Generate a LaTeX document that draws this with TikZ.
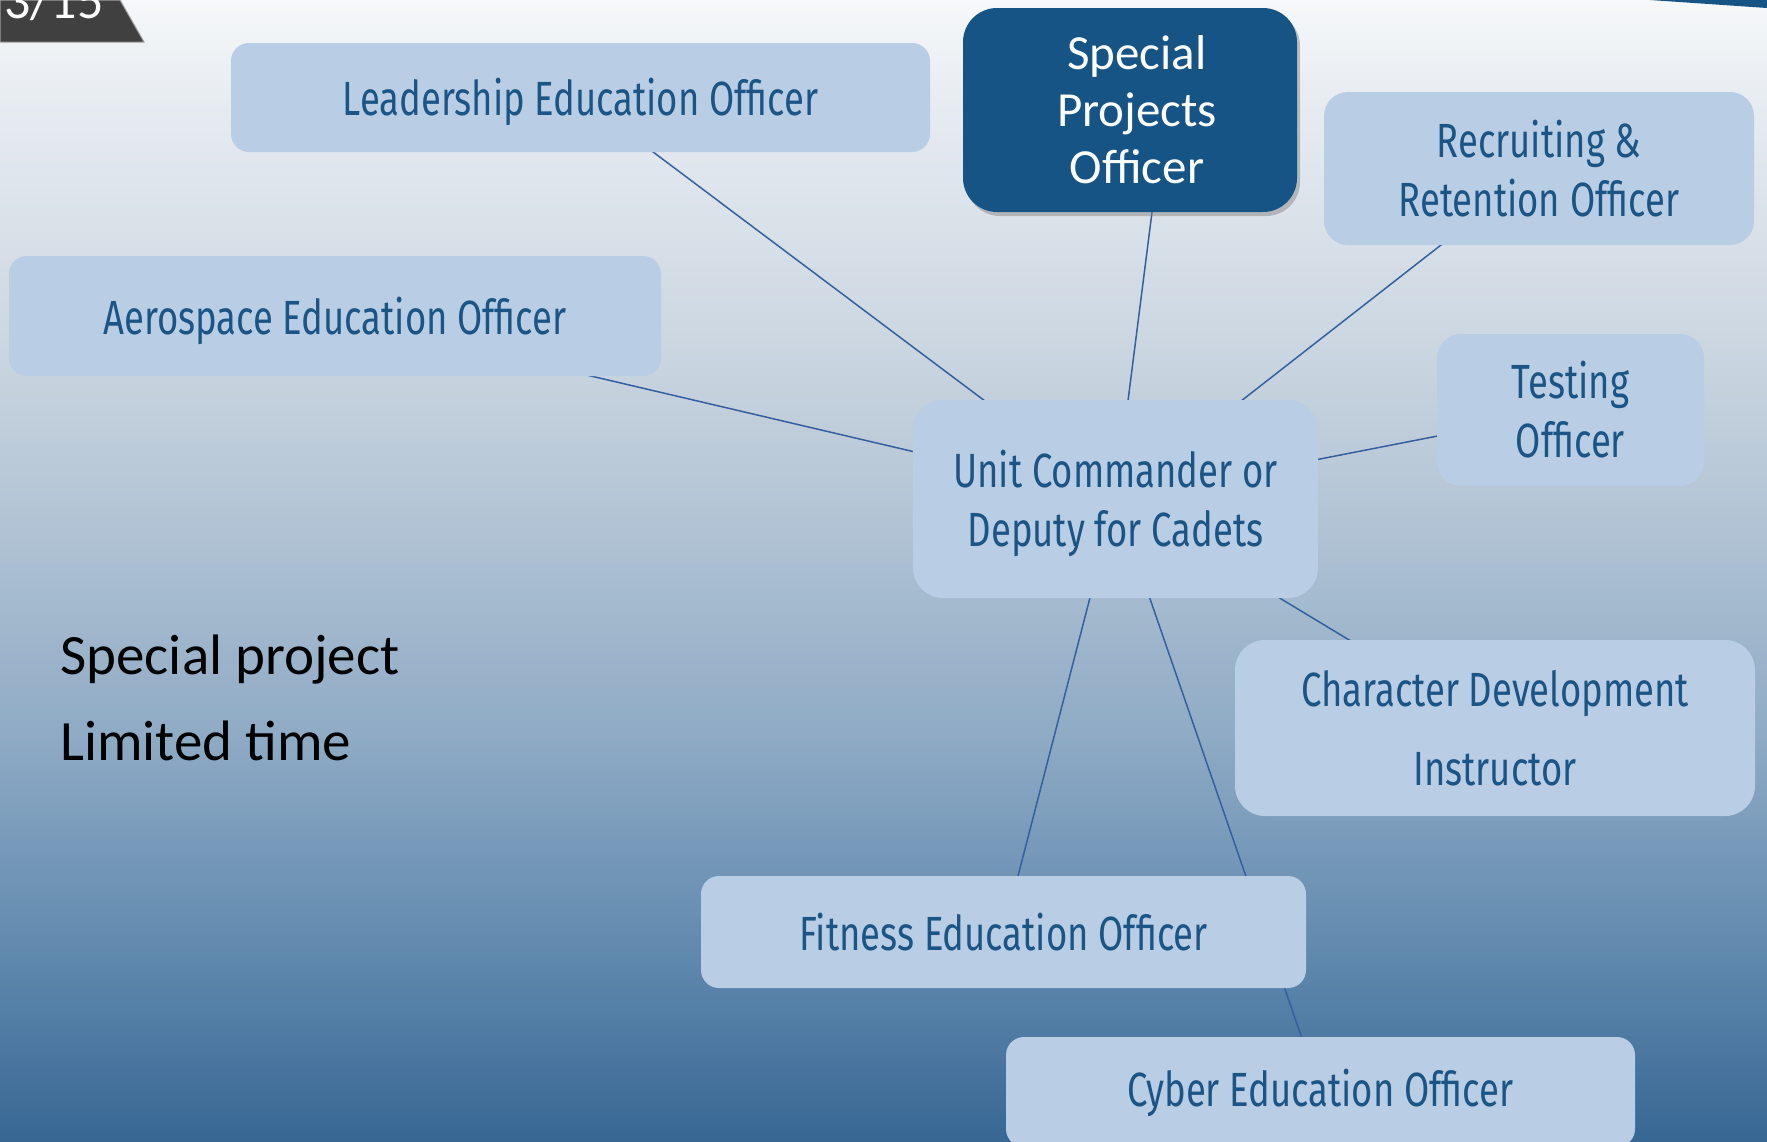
\documentclass[tikz,border=0pt]{standalone}
\usepackage{fontspec}
\usetikzlibrary{shadows}
\newfontfamily\boxfont{Fira Sans}[FakeStretch=0.76]
\newfontfamily\calfont{Carlito}
\definecolor{boxfill}{HTML}{B9CDE4}
\definecolor{boxtext}{HTML}{1B5585}
\definecolor{spfill}{HTML}{175486}
\definecolor{linecol}{HTML}{3560A0}
\definecolor{badgecol}{HTML}{404040}
\definecolor{bgA}{HTML}{386794}
\definecolor{bgB}{HTML}{5F88AD}
\definecolor{bgC}{HTML}{8FABC5}
\definecolor{bgD}{HTML}{B4C5D5}
\definecolor{bgE}{HTML}{CFD9E3}
\definecolor{bgF}{HTML}{E7ECF1}
\definecolor{bgG}{HTML}{F6F8FA}
\pgfdeclareverticalshading{bgshade}{100bp}{color(0bp)=(bgA); color(25bp)=(bgA); color(33bp)=(bgB); color(42.85bp)=(bgC); color(52.8bp)=(bgD); color(61.15bp)=(bgE); color(70.55bp)=(bgF); color(75bp)=(bgG); color(100bp)=(bgG)}
\pgfdeclarelayer{back}
\pgfdeclarelayer{lines}
\pgfsetlayers{back,lines,main}
\newcommand\dnstrut{\rule{0pt}{23.5pt}}
\newcommand\rsh{\hspace*{7pt}}
\tikzset{
  box/.style={fill=boxfill, rounded corners=12pt, inner sep=0pt, text=boxtext, align=center,
    font=\boxfont\fontsize{24}{29.5}\selectfont},
  spbox/.style={fill=spfill, rounded corners=17pt, inner sep=0pt, text=white, align=center,
    font=\calfont\fontsize{24.5}{28.5}\selectfont,
    drop shadow={opacity=0.45, shadow xshift=1.5pt, shadow yshift=-2pt}},
  link/.style={draw=linecol, line width=0.75pt},
  side/.style={text=black, inner sep=0pt, anchor=base west, font=\calfont\fontsize{28.5}{35}\selectfont}
}
\begin{document}
\begin{tikzpicture}[x=0.5pt,y=-0.5pt]
\useasboundingbox (0,0) rectangle (1767,1141);
\clip (0,0) rectangle (1767,1141);
\begin{pgfonlayer}{back}
\fill[shading=bgshade] (0,0) rectangle (1767,1141);
\end{pgfonlayer}

% badge and corner shape
\fill[badgecol, draw=gray!75, line width=0.5pt] (0,0) -- (120,0) -- (144,42) -- (0,42) -- cycle;
\node[anchor=base west, inner sep=0pt, text=white, font=\calfont\fontsize{26}{30}\selectfont] (badge) at (4,18) {3/15};
\fill[spfill] (1650,0) -- (1767,0) -- (1767,8) -- cycle;

% nodes
\node[box, minimum width=349.5pt, minimum height=54.5pt, rounded corners=9pt] (lead) at (580.5,97.5) {\dnstrut Leadership Education Officer};
\node[spbox, minimum width=167pt, minimum height=102pt] (spec) at (1130,110) {\rsh Special\\\rsh Projects\\\rsh Officer};
\node[box, minimum width=215pt, minimum height=76.5pt] (recr) at (1539,168.5) {Recruiting \&\\Retention Officer};
\node[box, minimum width=326pt, minimum height=60pt, rounded corners=9pt] (aero) at (335,316) {\dnstrut Aerospace Education Officer};
\node[box, minimum width=133.5pt, minimum height=76pt] (test) at (1570.5,410) {Testing\\Officer};
\node[box, minimum width=202.5pt, minimum height=99pt, rounded corners=15pt] (unit) at (1115.5,499) {\dnstrut Unit Commander or\\Deputy for Cadets};
\node[box, minimum width=260pt, minimum height=88pt, rounded corners=15pt, font=\boxfont\fontsize{24}{39.5}\selectfont] (char) at (1495,728) {Character Development\\Instructor};
\node[box, minimum width=302.5pt, minimum height=56pt, rounded corners=9pt] (fit) at (1003.5,932) {Fitness Education Officer};
\node[box, minimum width=314.5pt, minimum height=55pt, rounded corners=9pt] (cyber) at (1320.5,1092) {\rule{0pt}{20pt}Cyber Education Officer};

\coordinate (specaim) at (1165,110);

\node[side] (sp1) at (60,674) {Special project};
\node[side] (sp2) at (60,760) {Limited time};

% connectors
\begin{pgfonlayer}{lines}
\draw[link] (unit.center) -- (lead.center);
\draw[link] (unit.center) -- (specaim);
\draw[link] (unit.center) -- (recr.center);
\draw[link] (unit.center) -- (aero.center);
\draw[link] (unit.center) -- (test.center);
\draw[link] (unit.center) -- (char.center);
\draw[link] (unit.center) -- (fit.center);
\draw[link] (unit.center) -- (cyber.center);
\end{pgfonlayer}
\end{tikzpicture}
\end{document}
